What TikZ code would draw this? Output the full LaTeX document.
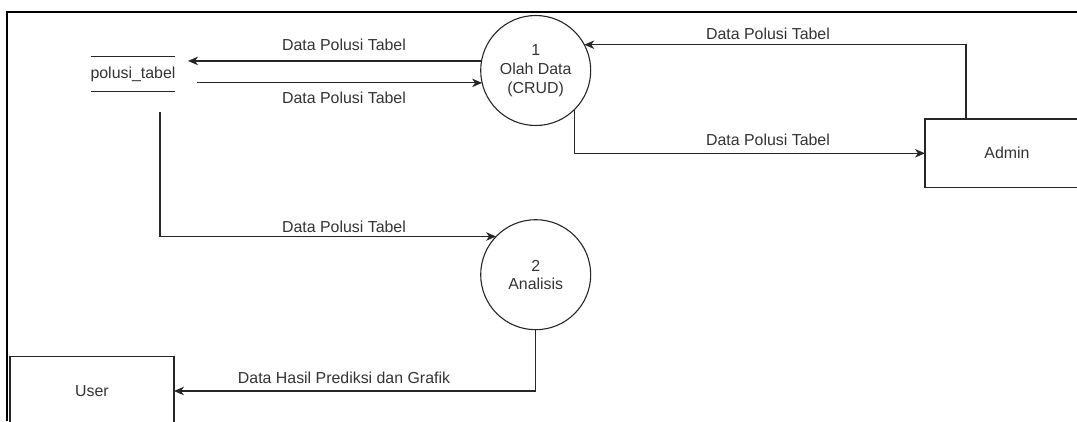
\documentclass[tikz,border=0pt]{standalone}
\usepackage{fontspec}
\setmainfont{Liberation Sans}
\usetikzlibrary{arrows.meta}

\begin{document}
\begin{tikzpicture}[x=1pt,y=-1pt,
  every node/.style={font=\fontsize{15.9}{19}\selectfont, text=black!80,
    inner sep=0pt, outer sep=0pt},
  proc/.style={circle, draw=black!85, line width=1.1pt, minimum size=110pt,
    align=center},
  ent/.style={rectangle, draw=black!85, line width=1.1pt,
    minimum width=164pt, minimum height=68.6pt},
  storebox/.style={minimum width=82pt, minimum height=34.3pt},
  storeline/.style={draw=black!85, line width=1.1pt},
  flow/.style={draw=black!85, line width=1.1pt,
    -{Stealth[length=10pt,width=8.5pt,inset=3pt]}},
  framebar/.style={draw=black, line width=1.6pt}]

\useasboundingbox (0,0) rectangle (1077,421);
\clip (0,0) rectangle (1077,421);

% page frame
\draw[framebar] (7,421) -- (7,12) -- (1077,12);

% processes
\node[proc] (p1) at (535.7,70.5) {1\\Olah Data\\(CRUD)};
\node[proc, font=\fontsize{15.9}{18}\selectfont] (p2) at (535.7,274.7) {2\\Analisis};

% external entities
\node[ent] (admin) at (1007,153.3) {Admin};
\node[ent] (user) at (92,391) {User};

% data store
\node[storebox] (store) at (133,73.9) {polusi\_tabel};
\draw[storeline] (store.north west) -- (store.north east)
                 (store.south west) -- (store.south east);

% connector ends beside the data store
\coordinate (storein) at (188,0);
\coordinate (storeout) at (197,0);
\coordinate (storedown) at (160,111.7);

% flows
\draw[flow] (p1.170.8) -- (p1.170.8 -| storein);
\draw[flow] (p1.193.5 -| storeout) -- (p1.193.5);
\draw[flow] (storedown) |- (p2.136.7);
\draw[flow] ([xshift=-41pt]admin.north) |- (p1.28.4);
\draw[flow] (p1.-45.9) |- (admin.west);
\draw[flow] (p2.south) |- (user.east);

% flow labels
\node at (344,45) {Data Polusi Tabel};
\node at (344,98.3) {Data Polusi Tabel};
\node at (344,226.7) {Data Polusi Tabel};
\node at (768,34) {Data Polusi Tabel};
\node at (768,140) {Data Polusi Tabel};
\node at (344,378) {Data Hasil Prediksi dan Grafik};
\end{tikzpicture}
\end{document}
